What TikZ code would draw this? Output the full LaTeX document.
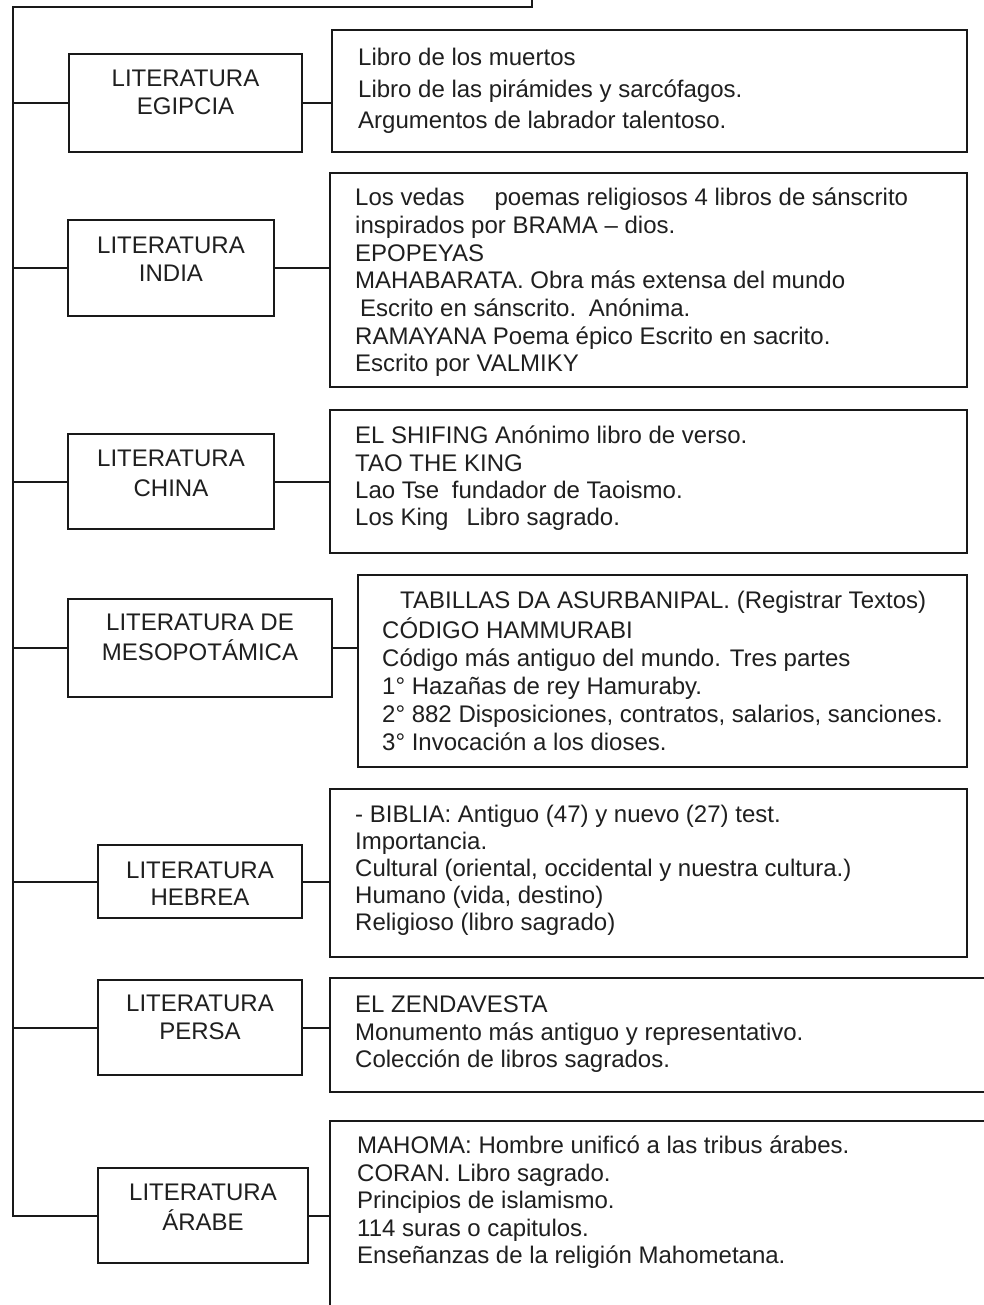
\documentclass[tikz,border=0pt]{standalone}
\usepackage{fontspec}
\setmainfont{Liberation Sans}
\begin{document}
\begin{tikzpicture}[x=1pt,y=-1pt,
  lbox/.style={draw=black!90, line width=2pt, inner sep=0pt, outer sep=0pt},
  cbox/.style={draw=black!90, line width=2pt, inner sep=0pt, outer sep=0pt},
  wire/.style={draw=black!90, line width=2pt},
  ctext/.style={anchor=north west, inner sep=0pt, align=left, text=black!88},
  ltext/.style={anchor=center, inner sep=0pt, align=center, text=black!88,
    font=\fontsize{24}{28}\selectfont}]
\clip (0,0) rectangle (984,1305);
\fill[white] (0,0) rectangle (984,1305);

% label boxes
\node[lbox, minimum width=233pt, minimum height=98pt] (L1) at (185.5,103) {};
\node[lbox, minimum width=206pt, minimum height=96pt] (L2) at (171,268) {};
\node[lbox, minimum width=206pt, minimum height=95pt] (L3) at (171,481.5) {};
\node[lbox, minimum width=264pt, minimum height=98pt] (L4) at (200,648) {};
\node[lbox, minimum width=204pt, minimum height=73pt] (L5) at (200,881.5) {};
\node[lbox, minimum width=204pt, minimum height=95pt] (L6) at (200,1027.5) {};
\node[lbox, minimum width=210pt, minimum height=95pt] (L7) at (203,1215.5) {};

% content boxes
\node[cbox, minimum width=635pt, minimum height=122pt] (C1) at (649.5,91) {};
\node[cbox, minimum width=637pt, minimum height=214pt] (C2) at (648.5,280) {};
\node[cbox, minimum width=637pt, minimum height=143pt] (C3) at (648.5,481.5) {};
\node[cbox, minimum width=609pt, minimum height=192pt] (C4) at (662.5,671) {};
\node[cbox, minimum width=637pt, minimum height=168pt] (C5) at (648.5,873) {};
\node[cbox, minimum width=680pt, minimum height=114pt] (C6) at (670,1035) {};
\node[cbox, minimum width=680pt, minimum height=239pt] (C7) at (670,1240.5) {};

% label texts
\node[ltext] (LT1) at (185.5,95) {\strut LITERATURA\\\strut EGIPCIA};
\node[ltext] (LT2) at (171,261.5) {\strut LITERATURA\\\strut INDIA};
\node[ltext, font=\fontsize{24}{30}\selectfont] (LT3) at (171,475) {\strut LITERATURA\\\strut CHINA};
\node[ltext] (LT4) at (200,640) {\strut LITERATURA DE\\\strut MESOPOTÁMICA};
\node[ltext, font=\fontsize{24}{27}\selectfont] (LT5) at (200,886.5) {\strut LITERATURA\\\strut HEBREA};
\node[ltext] (LT6) at (200,1019.5) {\strut LITERATURA\\\strut PERSA};
\node[ltext] (LT7) at (203,1209.5) {\strut LITERATURA\\\strut ÁRABE};

% content texts
\node[ctext, font=\fontsize{24}{31.5}\selectfont] (T1) at (358,43.5) {\strut Libro de los muertos\\
Libro de las pirámides y sarcófagos.\\
Argumentos de labrador talentoso.};
\node[ctext, font=\fontsize{24}{27.7}\selectfont] (T2) at (355,186.2) {\strut Los vedas\hspace*{30pt}poemas religiosos 4 libros de sánscrito\\
inspirados por BRAMA – dios.\\
EPOPEYAS\\
MAHABARATA. Obra más extensa del mundo\\
\hspace*{5pt}Escrito en sánscrito.\hspace*{6pt} Anónima.\\
RAMAYANA Poema épico Escrito en sacrito.\\
Escrito por VALMIKY};
\node[ctext, font=\fontsize{24}{27.3}\selectfont] (T3) at (355,424.5) {\strut EL SHIFING Anónimo libro de verso.\\
TAO THE KING\\
Lao Tse\hspace*{6pt} fundador de Taoismo.\\
Los King\hspace*{18pt}Libro sagrado.};
\node[ctext, font=\fontsize{24}{27.8}\selectfont] (T4) at (382,589.1) {\strut\hspace*{18pt}TABILLAS DA ASURBANIPAL. (Registrar Textos)\\
CÓDIGO HAMMURABI\\
Código más antiguo del mundo. Tres partes\\
1° Hazañas de rey Hamuraby.\\
2° 882 Disposiciones, contratos, salarios, sanciones.\\
3° Invocación a los dioses.};
\node[ctext, font=\fontsize{24}{27}\selectfont] (T5) at (355,803.7) {\strut - BIBLIA: Antiguo (47) y nuevo (27) test.\\
Importancia.\\
Cultural (oriental, occidental y nuestra cultura.)\\
Humano (vida, destino)\\
Religioso (libro sagrado)};
\node[ctext, font=\fontsize{24}{27.5}\selectfont] (T6) at (355,993.4) {\strut EL ZENDAVESTA\\
Monumento más antiguo y representativo.\\
Colección de libros sagrados.};
\node[ctext, font=\fontsize{24}{27.5}\selectfont] (T7) at (357,1134.4) {\strut MAHOMA: Hombre unificó a las tribus árabes.\\
CORAN. Libro sagrado.\\
Principios de islamismo.\\
114 suras o capitulos.\\
Enseñanzas de la religión Mahometana.};

% spine
\coordinate (top) at (532,0);
\coordinate (corner) at (12.5,7);
\draw[wire] (top) |- (corner) -- (corner |- L7.west) -- (L7.west);
\foreach \k in {1,...,6} {\draw[wire] (corner |- L\k.west) -- (L\k.west);}
% branches to content
\foreach \k in {1,...,7} {\draw[wire] (L\k.east) -- (L\k.east -| C\k.west);}
\end{tikzpicture}
\end{document}
